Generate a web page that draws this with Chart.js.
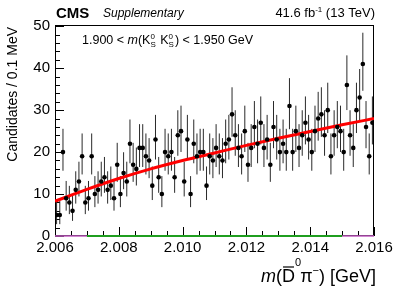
<!DOCTYPE html>
<html>
<head>
<meta charset="utf-8">
<script src="https://cdn.jsdelivr.net/npm/chart.js@4.4.0/dist/chart.umd.min.js"></script>
<style>
  html, body { margin: 0; padding: 0; background: #fff; }
  #wrap { width: 399px; height: 286px; }
</style>
</head>
<body>
<div id="wrap"><canvas id="c" width="399" height="286"></canvas></div>
<script>
// m(D0bar pi-) histogram, 0.1 MeV bins from 2.006 to 2.016 GeV
const binLo = 2.006;
const binW = 0.0001;
const counts = [
  5, 5, 20, 9, 8, 6, 11, 13, 19, 8,
  9, 19, 10, 11, 13, 14, 11, 12, 9, 17,
  10, 15, 13, 22, 17, 16, 21, 21, 19, 18,
  12, 23, 14, 10, 20, 19, 20, 14, 24, 25,
  13, 23, 10, 22, 19, 20, 20, 12, 19, 18,
  21, 19, 18, 22, 23, 29, 24, 21, 19, 25,
  17, 21, 26, 22, 27, 21, 23, 17, 26, 23,
  20, 22, 20, 31, 20, 25, 21, 24, 27, 23,
  20, 25, 28, 29, 24, 30, 19, 24, 26, 25,
  20, 36, 24, 21, 30, 33, 41, 26, 19, 27
];
// background fit curve (red)
const fitX = [2.006, 2.007, 2.008, 2.009, 2.010, 2.011, 2.012, 2.013, 2.014, 2.015, 2.016];
const fitY = [8.3, 11.1, 13.7, 16.0, 18.0, 19.8, 21.6, 23.3, 24.9, 26.5, 28.0];
// signal components sitting at zero
const greenX = [2.007, 2.015];
const purpleLoX = [2.006, 2.007];
const purpleHiX = [2.015, 2.016];
// axis ticks
const xTicks = [2.006, 2.008, 2.010, 2.012, 2.014, 2.016];
const yTicks = [0, 10, 20, 30, 40, 50];
const xMinorStep = 0.0005;
const yMinorStep = 2;

const FONT = '"Liberation Sans", Arial, Helvetica, sans-serif';

// poisson error bars (Gehrels approximation)
const errHi = n => 1 + Math.sqrt(n + 0.75);
const errLo = n => (n > 0 ? Math.sqrt(n - 0.25) : 0);

const pts = counts.map((v, i) => ({ x: binLo + (i + 0.5) * binW, y: v }));

// draw text made of pieces (sup/sub/stacked), left or right aligned
function drawRich(ctx, x, y, parts, align) {
  let w = 0;
  parts.forEach(p => {
    ctx.font = p.f;
    p.w = ctx.measureText(p.t).width;
    if (p.t2) p.w = Math.max(p.w, ctx.measureText(p.t2).width);
    w += p.w + (p.gap || 0);
  });
  let cx = align === 'right' ? x - w : x;
  parts.forEach(p => {
    ctx.font = p.f;
    ctx.fillText(p.t, cx, y + (p.dy || 0));
    if (p.t2) ctx.fillText(p.t2, cx, y + p.dy2);
    if (p.bar) {
      ctx.save();
      ctx.lineWidth = 1.2;
      ctx.beginPath();
      ctx.moveTo(cx + 1, y + p.bar);
      ctx.lineTo(cx + p.w - 1, y + p.bar);
      ctx.stroke();
      ctx.restore();
    }
    cx += p.w + (p.gap || 0);
  });
}

// frame + inward ticks first, then error bars, then the datasets on top
const frameAndBars = {
  id: 'frameAndBars',
  beforeDatasetsDraw(chart) {
    const { ctx, chartArea: a, scales: { x, y } } = chart;
    ctx.save();
    ctx.strokeStyle = '#000';
    ctx.lineWidth = 1;
    ctx.strokeRect(Math.round(a.left) + 0.5, Math.round(a.top) + 0.5,
      Math.round(a.right - a.left) - 1, Math.round(a.bottom - a.top) - 1);
    ctx.beginPath();
    for (let v = xTicks[0]; v <= xTicks[xTicks.length - 1] + 1e-9; v += xMinorStep) {
      const major = xTicks.some(t => Math.abs(t - v) < 1e-7);
      const px = Math.round(x.getPixelForValue(v)) + 0.5;
      ctx.moveTo(px, a.bottom);
      ctx.lineTo(px, a.bottom - (major ? 9 : 5));
    }
    for (let v = 0; v <= 50 + 1e-9; v += yMinorStep) {
      const major = v % 10 === 0;
      const py = Math.round(y.getPixelForValue(v)) + 0.5;
      ctx.moveTo(a.left, py);
      ctx.lineTo(a.left + (major ? 9 : 5), py);
    }
    ctx.stroke();

    ctx.beginPath();
    ctx.rect(a.left, a.top, a.right - a.left, a.bottom - a.top);
    ctx.clip();
    ctx.strokeStyle = '#2a2a2a';
    pts.forEach(p => {
      const px = x.getPixelForValue(p.x);
      ctx.beginPath();
      ctx.moveTo(px, y.getPixelForValue(p.y - errLo(p.y)));
      ctx.lineTo(px, y.getPixelForValue(p.y + errHi(p.y)));
      ctx.stroke();
    });
    ctx.restore();
  }
};

const labels = {
  id: 'labels',
  afterDraw(chart) {
    const { ctx, chartArea: a } = chart;
    ctx.save();
    ctx.fillStyle = '#000';
    ctx.strokeStyle = '#000';
    ctx.textBaseline = 'alphabetic';
    ctx.textAlign = 'left';

    // CMS Supplementary
    ctx.font = 'bold 15px ' + FONT;
    ctx.fillText('CMS', a.left + 1, 18);
    ctx.font = 'italic 12px ' + FONT;
    ctx.fillText('Supplementary', a.left + 48, 17);

    // luminosity
    drawRich(ctx, a.right + 1, 17, [
      { t: '41.6 fb', f: '13px ' + FONT },
      { t: '-1', f: '8px ' + FONT, dy: -5 },
      { t: ' (13 TeV)', f: '13px ' + FONT }
    ], 'right');

    // mass window
    drawRich(ctx, 82, 44, [
      { t: '1.900 < ', f: '12.5px ' + FONT },
      { t: 'm', f: 'italic 12.5px ' + FONT },
      { t: '(K', f: '12.5px ' + FONT },
      { t: '0', t2: 'S', f: '8px ' + FONT, dy: -5, dy2: 3, gap: 1 },
      { t: ' K', f: '12.5px ' + FONT },
      { t: '0', t2: 'S', f: '8px ' + FONT, dy: -5, dy2: 3, gap: 1 },
      { t: ') < 1.950 GeV', f: '12.5px ' + FONT }
    ], 'left');

    // x axis title
    drawRich(ctx, a.right + 2, 282, [
      { t: 'm', f: 'italic 18px ' + FONT },
      { t: '(', f: '18px ' + FONT },
      { t: 'D', f: '18px ' + FONT, bar: -15 },
      { t: '0', f: '11px ' + FONT, dy: -16, gap: -1 },
      { t: '\u03c0', f: '18px ' + FONT },
      { t: '\u2212', f: '11px ' + FONT, dy: -8 },
      { t: ') [GeV]', f: '18px ' + FONT }
    ], 'right');

    // y axis title
    ctx.save();
    ctx.translate(17, a.top + 2);
    ctx.rotate(-Math.PI / 2);
    ctx.textAlign = 'right';
    ctx.font = '14px ' + FONT;
    ctx.fillText('Candidates / 0.1 MeV', 0, 0);
    ctx.restore();

    ctx.restore();
  }
};

new Chart(document.getElementById('c'), {
  type: 'scatter',
  data: {
    datasets: [
      {
        label: 'data',
        data: pts,
        pointRadius: 2.3,
        pointHoverRadius: 2.3,
        backgroundColor: '#000',
        borderWidth: 0,
        order: 0
      },
      {
        label: 'fit',
        type: 'line',
        data: fitX.map((v, i) => ({ x: v, y: fitY[i] })),
        borderColor: '#ff0000',
        borderWidth: 3,
        pointRadius: 0,
        cubicInterpolationMode: 'monotone',
        fill: false,
        order: 1
      },
      {
        label: 'signal',
        type: 'line',
        data: greenX.map(v => ({ x: v, y: 0 })),
        borderColor: '#1f9e1f',
        borderWidth: 2,
        pointRadius: 0,
        clip: 2,
        order: 2
      },
      {
        label: 'lo',
        type: 'line',
        data: purpleLoX.map(v => ({ x: v, y: 0 })),
        borderColor: '#c35ec3',
        borderWidth: 1.5,
        pointRadius: 0,
        clip: 2,
        order: 3
      },
      {
        label: 'hi',
        type: 'line',
        data: purpleHiX.map(v => ({ x: v, y: 0 })),
        borderColor: '#c35ec3',
        borderWidth: 1.5,
        pointRadius: 0,
        clip: 2,
        order: 3
      }
    ]
  },
  options: {
    responsive: false,
    animation: false,
    devicePixelRatio: 1,
    layout: { padding: { top: 25, right: 25, left: 0, bottom: 0 } },
    plugins: { legend: { display: false }, tooltip: { enabled: false } },
    scales: {
      x: {
        type: 'linear',
        min: 2.006,
        max: 2.016,
        afterBuildTicks: s => { s.ticks = xTicks.map(v => ({ value: v })); },
        afterFit: s => { s.height = 50; },
        grid: { display: false, drawTicks: false },
        border: { display: false },
        ticks: {
          autoSkip: false,
          maxRotation: 0,
          padding: 3,
          color: '#000',
          font: { family: FONT, size: 15 },
          callback: v => v.toFixed(3)
        }
      },
      y: {
        type: 'linear',
        min: 0,
        max: 50.3,
        afterBuildTicks: s => { s.ticks = yTicks.map(v => ({ value: v })); },
        afterFit: s => { s.width = 55; },
        grid: { display: false, drawTicks: false },
        border: { display: false },
        ticks: {
          padding: 5,
          color: '#000',
          font: { family: FONT, size: 15 }
        }
      }
    }
  },
  plugins: [frameAndBars, labels]
});
</script>
</body>
</html>
